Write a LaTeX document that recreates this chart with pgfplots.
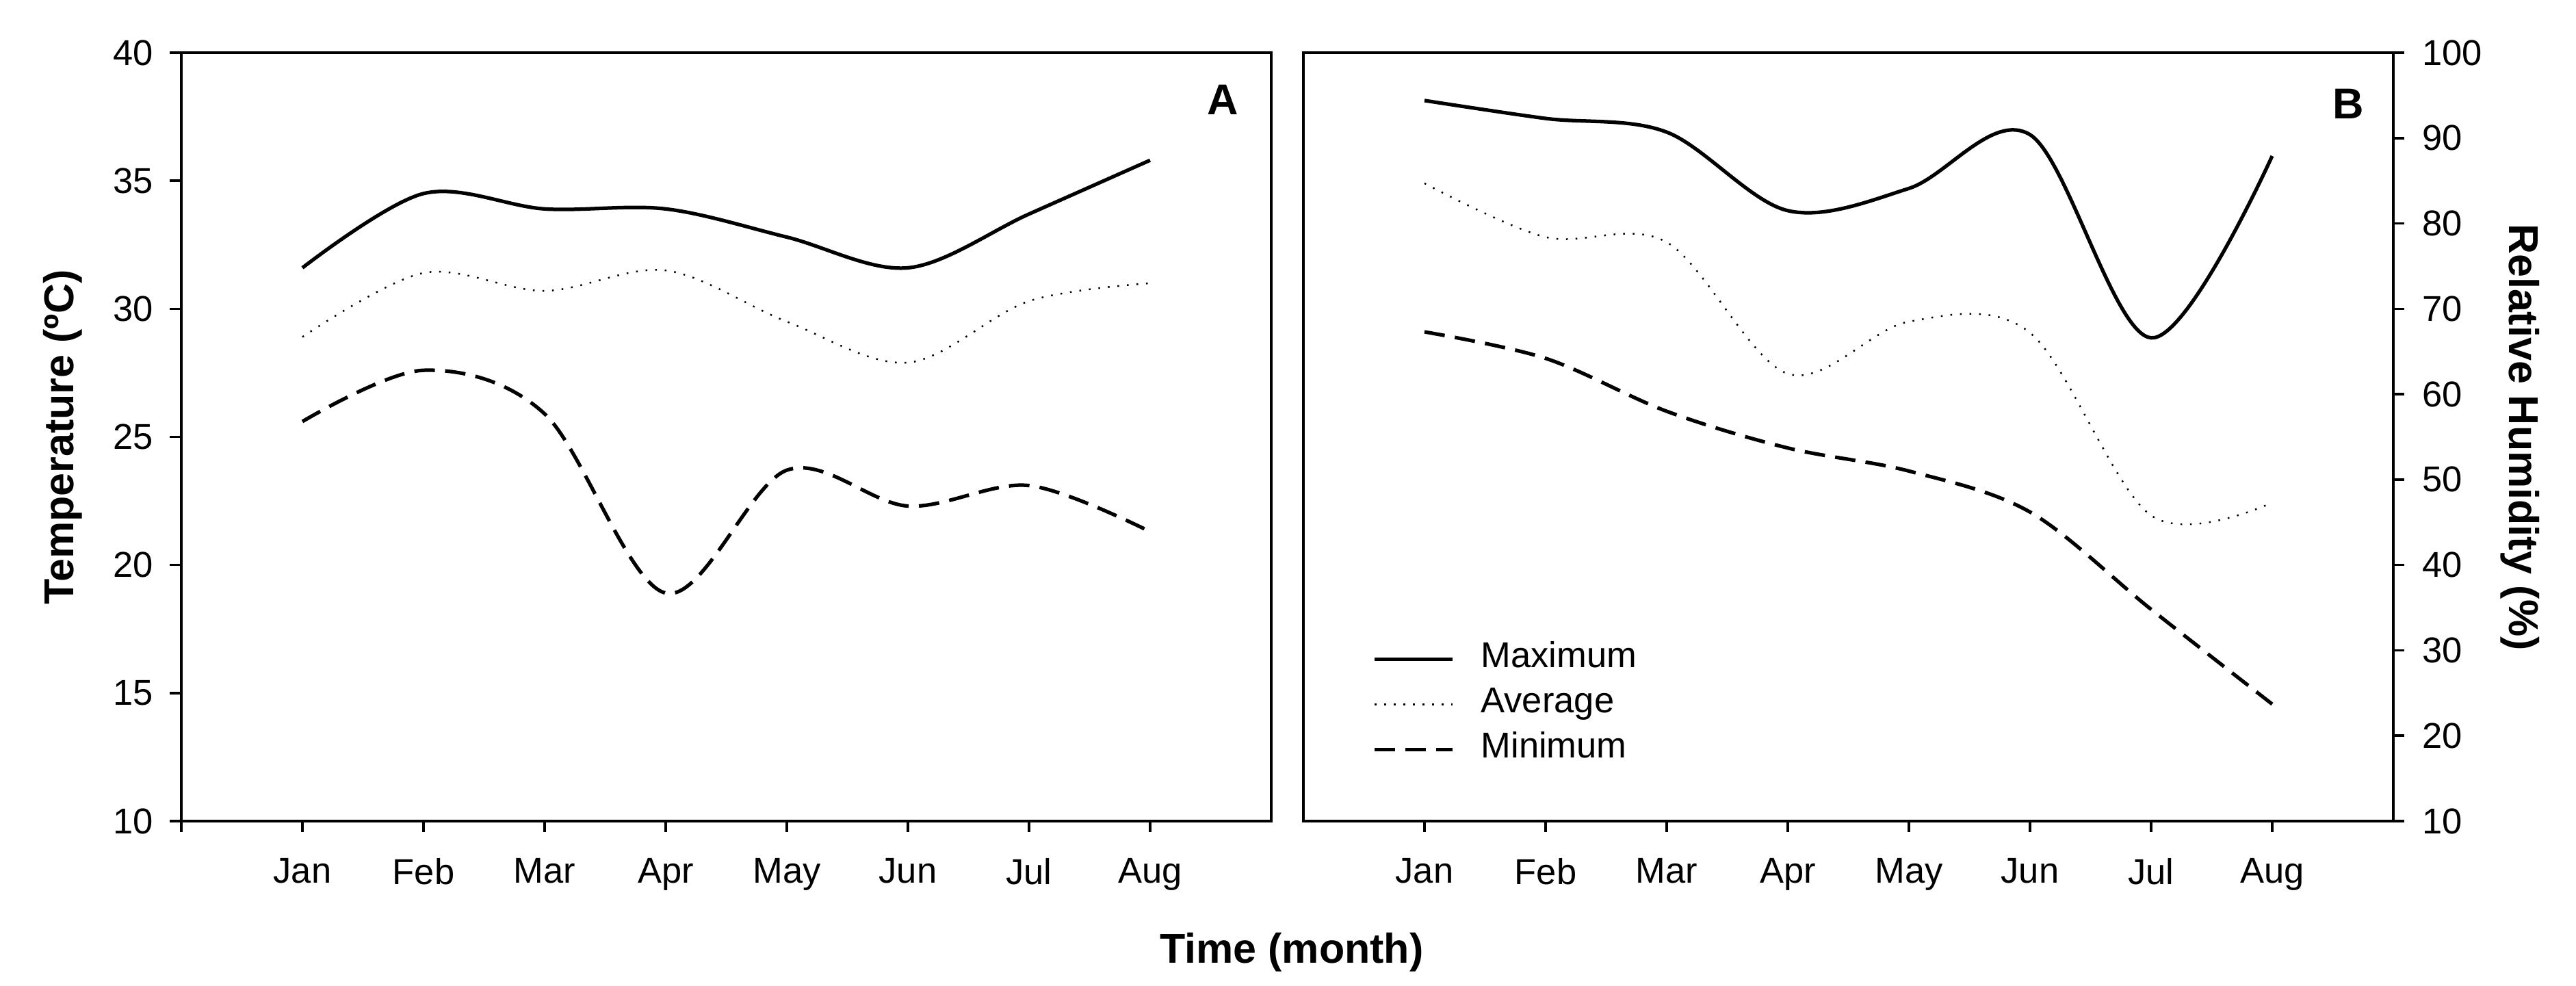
\documentclass[border=0pt]{standalone}
\usepackage{pgfplots}
\pgfplotsset{compat=1.18}
\usepackage{fontspec}
\setmainfont{Liberation Sans}
\begin{document}
\fontsize{10.4pt}{12.5pt}\selectfont
\begin{tikzpicture}
\path[use as bounding box] (0,0) rectangle (753pt,288.2pt);
\pgfplotsset{
  base/.style={
    scale only axis, width=318.6pt, height=224.6pt,
    xmin=0, xmax=9, tick align=outside, major tick length=3.3pt,
    axis line style={line width=0.8pt},
    every tick/.style={line width=0.7pt, black},
    tick label style={font=\fontsize{10.5pt}{12.5pt}\selectfont},
    /pgf/number format/assume math mode=true,
    xticklabel style={yshift=-4pt},
    clip=false,
  },
  mymax/.style={black, line width=1.05pt, smooth, tension=0.55, mark=none},
  myavg/.style={black, line width=0.5pt, dash pattern=on 0.5pt off 2.3pt, smooth, tension=0.55, mark=none},
  mymin/.style={black, line width=1.05pt, dash pattern=on 6pt off 3pt, smooth, tension=0.55, mark=none},
}
% Panel A
\begin{axis}[base, at={(53pt,48.2pt)}, anchor=south west,
  ymin=10, ymax=40, ytick={10,15,...,40},
  xtick={0,...,8}, xticklabels={{},Jan,Feb,Mar,Apr,May,Jun,Jul,Aug},
  xtick pos=left, ytick pos=left,
  yticklabel style={xshift=-1.3pt}]
\addplot[mymax] coordinates {(1,31.6) (2,34.5) (3,33.9) (4,33.9) (5,32.8) (6,31.6) (7,33.7) (8,35.8)};
\addplot[myavg] coordinates {(1,28.9) (2,31.4) (3,30.7) (4,31.5) (5,29.5) (6,27.9) (7,30.3) (8,31.0)};
\addplot[mymin] coordinates {(1,25.6) (2,27.6) (3,25.9) (4,18.9) (5,23.7) (6,22.3) (7,23.1) (8,21.3)};
\node[font=\bfseries\fontsize{12.6pt}{14pt}\selectfont] at (axis cs:8.6,38.15) {A};
\end{axis}
% Panel B
\begin{axis}[base, at={(381pt,48.2pt)}, anchor=south west,
  ymin=10, ymax=100, ytick={10,20,...,100},
  xtick={1,...,8}, xticklabels={Jan,Feb,Mar,Apr,May,Jun,Jul,Aug},
  xtick pos=left, ytick pos=right, yticklabel pos=right,
  yticklabel style={xshift=1.5pt},
  legend cell align=left,
  legend image code/.code={\draw[#1] (0pt,0pt) -- (22.8pt,0pt);},
  legend style={at={(rel axis cs:0.063,0.152)}, anchor=west, draw=none, fill=none,
    inner sep=0pt, column sep=6.8pt, row sep=1.2pt,
    nodes={inner sep=1pt, text height=7.5pt, text depth=2.5pt},
    font=\fontsize{10.5pt}{12.5pt}\selectfont}]
\addplot[mymax] coordinates {(1,94.4) (2,92.3) (3,90.7) (4,81.5) (5,84.1) (6,90.4) (7,66.6) (8,87.9)};
\addlegendentry{Maximum}
\addplot[myavg] coordinates {(1,84.7) (2,78.4) (3,77.8) (4,62.4) (5,68.5) (6,67.2) (7,45.8) (8,47.3)};
\addlegendentry{Average}
\addplot[mymin] coordinates {(1,67.3) (2,64.2) (3,58.0) (4,53.7) (5,51.0) (6,46.2) (7,34.8) (8,23.7)};
\addlegendentry{Minimum}
\node[font=\bfseries\fontsize{12.6pt}{14pt}\selectfont] at (axis cs:8.63,94.0) {B};
\end{axis}
% Axis labels
\node[rotate=90, font=\bfseries\fontsize{12.2pt}{14pt}\selectfont] at (18.4pt,160.4pt) {Temperature (ºC)};
\node[rotate=-90, font=\bfseries\fontsize{12.2pt}{14pt}\selectfont] at (736.6pt,160.4pt) {Relative Humidity (\%)};
\node[anchor=base, font=\bfseries\fontsize{12.2pt}{14pt}\selectfont] at (377.6pt,6.6pt) {Time (month)};
\end{tikzpicture}
\end{document}
